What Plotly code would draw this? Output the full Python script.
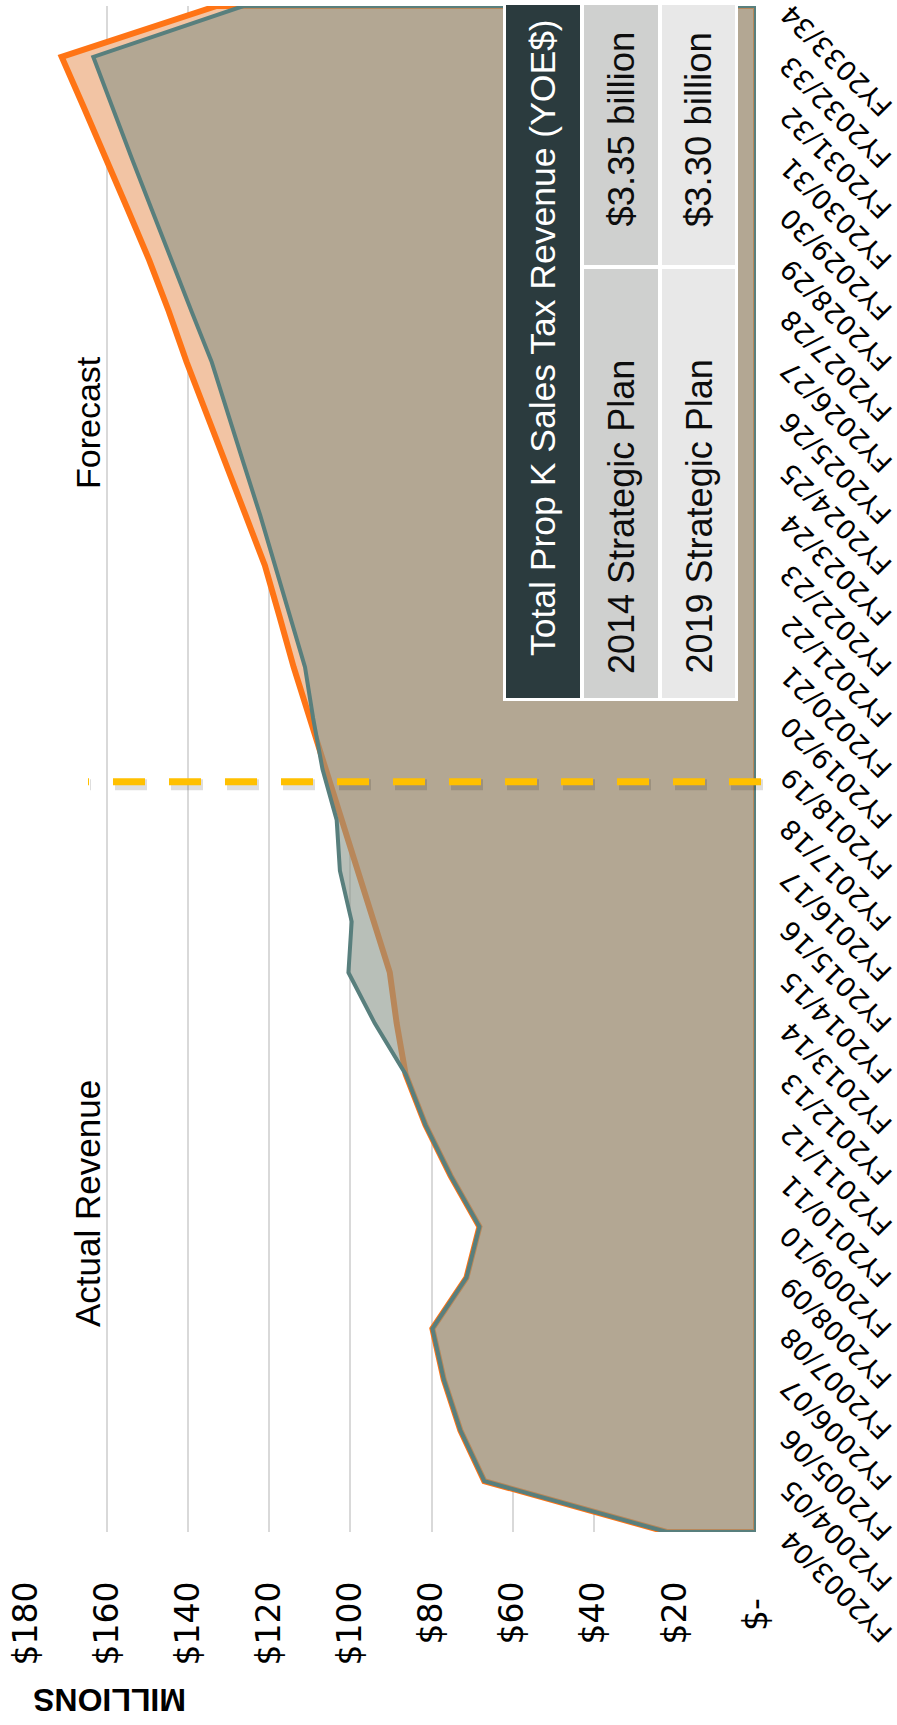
import plotly.graph_objects as go

# ---------------- data ----------------
categories = ["FY2003/04", "FY2004/05", "FY2005/06", "FY2006/07", "FY2007/08", "FY2008/09",
              "FY2009/10", "FY2010/11", "FY2011/12", "FY2012/13", "FY2013/14", "FY2014/15",
              "FY2015/16", "FY2016/17", "FY2017/18", "FY2018/19", "FY2019/20", "FY2020/21",
              "FY2021/22", "FY2022/23", "FY2023/24", "FY2024/25", "FY2025/26", "FY2026/27",
              "FY2027/28", "FY2028/29", "FY2029/30", "FY2030/31", "FY2031/32", "FY2032/33",
              "FY2033/34"]

plan_2019 = [22.0, 67.0, 72.9, 77.0, 79.8, 71.4, 68.2, 75.3, 81.5, 86.4, 94.0, 100.5,
             99.7, 102.6, 103.4, 106.9, 109.2, 111.2, 114.9, 118.6, 122.3, 126.3, 130.2,
             134.2, 139.2, 144.2, 149.0, 153.9, 158.7, 163.4, 126.4]

plan_2014 = [22.0, 67.0, 72.9, 77.0, 79.8, 71.4, 68.2, 75.3, 81.5, 86.4, 88.6, 90.3,
             94.3, 98.2, 102.1, 106.0, 110.0, 114.0, 117.5, 121.1, 125.9, 130.7, 135.5,
             140.4, 144.8, 149.6, 154.9, 160.2, 165.7, 171.2, 133.0]

value_ticks = [0, 20, 40, 60, 80, 100, 120, 140, 160, 180]
value_tick_labels = ["$-\u2002", "$20", "$40", "$60", "$80", "$100", "$120", "$140", "$160", "$180"]

table_header = "Total Prop K Sales Tax Revenue (YOE$)"
table_plans = ["2014 Strategic Plan", "2019 Strategic Plan"]
table_totals = ["$3.35 billion", "$3.30 billion"]

forecast_divider = 14.75      # between FY2017/18 and FY2018/19 (category index)

# ---------------- geometry helpers ----------------
W, H = 897, 1725
M_L, M_R, M_T, M_B = 26, 141, 6, 193
PW = W - M_L - M_R
PH = H - M_T - M_B


def px(x):
    return (x - M_L) / PW


def py(y):
    return (H - M_B - y) / PH


idx = list(range(len(categories)))


def polygon(vals):
    xs = [0] + list(vals) + [0, 0]
    ys = [idx[0]] + idx + [idx[-1], idx[0]]
    return xs, ys


FONT = "Liberation Sans, Arial, sans-serif"
LABEL_FONT = "DejaVu Sans, Verdana, sans-serif"

fig = go.Figure()

x14, y14 = polygon(plan_2014)
fig.add_trace(go.Scatter(x=x14, y=y14, mode="lines", fill="toself",
                         fillcolor="#f2c4a4",
                         line=dict(color="#ff7415", width=6),
                         name="2014 Strategic Plan", hoverinfo="skip"))

x19, y19 = polygon(plan_2019)
fig.add_trace(go.Scatter(x=x19, y=y19, mode="lines", fill="toself",
                         fillcolor="rgba(137,148,137,0.6)",
                         line=dict(color="#587f7d", width=4),
                         name="2019 Strategic Plan", hoverinfo="skip"))

shapes = []
# divider shadow + divider
shapes.append(dict(type="line", xref="paper", yref="y",
                   x0=px(763), x1=px(90), y0=forecast_divider - 0.06, y1=forecast_divider - 0.06,
                   line=dict(color="rgba(0,0,0,0.13)", width=11, dash="32px,24px")))
shapes.append(dict(type="line", xref="paper", yref="y",
                   x0=px(761), x1=px(88), y0=forecast_divider, y1=forecast_divider,
                   line=dict(color="#ffc000", width=7, dash="32px,24px")))


def rect(x0, y0, x1, y1, color):
    return dict(type="rect", xref="paper", yref="paper", layer="above",
                x0=px(x0), x1=px(x1), y0=py(y1), y1=py(y0),
                fillcolor=color, line=dict(width=0))


shapes.append(rect(503, 2, 738, 701, "#ffffff"))
shapes.append(rect(506, 5, 580, 698, "#2b3b3e"))
shapes.append(rect(584, 5, 658, 265, "#cfd0cf"))
shapes.append(rect(584, 269, 658, 698, "#cfd0cf"))
shapes.append(rect(662, 5, 735, 265, "#e8e8e8"))
shapes.append(rect(662, 269, 735, 698, "#e8e8e8"))

annotations = []
annotations.append(dict(text=table_header, xref="paper", yref="paper",
                        x=px(543), y=py(338), xanchor="center", yanchor="middle",
                        textangle=-90, showarrow=False,
                        font=dict(family=FONT, size=35.5, color="#ffffff")))
for k, (plan, total) in enumerate(zip(table_plans, table_totals)):
    cx = [621, 698.5][k]
    annotations.append(dict(text=plan, xref="paper", yref="paper",
                            x=px(cx), y=py(676), xanchor="center", yanchor="bottom",
                            textangle=-90, showarrow=False,
                            font=dict(family=FONT, size=36, color="#0d0d0d")))
    annotations.append(dict(text=total, xref="paper", yref="paper",
                            x=px(cx), y=py(30), xanchor="center", yanchor="top",
                            textangle=-90, showarrow=False,
                            font=dict(family=FONT, size=36.5, color="#0d0d0d")))

annotations.append(dict(text="Actual Revenue", xref="paper", yref="paper",
                        x=px(87), y=py(1204), xanchor="center", yanchor="middle",
                        textangle=-90, showarrow=False,
                        font=dict(family=FONT, size=35, color="#000000")))
annotations.append(dict(text="Forecast", xref="paper", yref="paper",
                        x=px(88), y=py(423), xanchor="center", yanchor="middle",
                        textangle=-90, showarrow=False,
                        font=dict(family=FONT, size=34, color="#000000")))
annotations.append(dict(text="<b>MILLIONS</b>", xref="paper", yref="paper",
                        x=px(110), y=py(1700), xanchor="center", yanchor="middle",
                        textangle=180, showarrow=False,
                        font=dict(family=FONT, size=32, color="#000000")))

for i, cat in enumerate(categories):
    annotations.append(dict(text=cat, xref="paper", yref="y",
                            x=px(836), y=i, yshift=-55,
                            xanchor="center", yanchor="middle",
                            textangle=-135, showarrow=False,
                            font=dict(family=LABEL_FONT, size=27, color="#000000")))

fig.update_layout(
    width=W, height=H,
    margin=dict(l=M_L, r=M_R, t=M_T, b=M_B, pad=0),
    paper_bgcolor="#ffffff", plot_bgcolor="#ffffff",
    showlegend=False,
    shapes=shapes, annotations=annotations,
    xaxis=dict(range=[180, 0], tickvals=value_ticks, ticktext=value_tick_labels,
               tickangle=-90, ticks="", ticklabelstandoff=42,
               showgrid=True, gridcolor="#d9d9d9", gridwidth=1.5,
               zeroline=False, showline=False,
               tickfont=dict(family=LABEL_FONT, size=33, color="#000000")),
    yaxis=dict(range=[0, len(categories) - 1], showticklabels=False, ticks="",
               showgrid=False, zeroline=False, showline=False),
)

fig.write_html("out.html")
